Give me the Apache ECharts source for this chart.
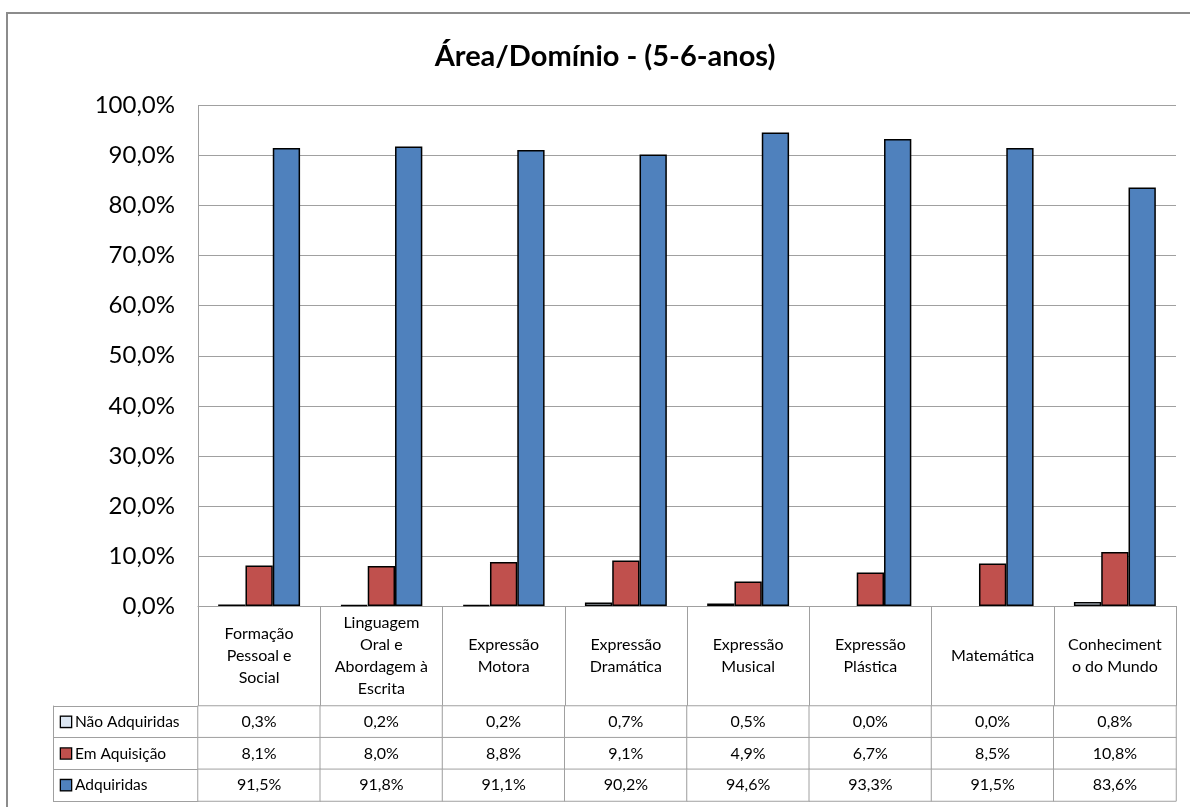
<!DOCTYPE html>
<html>
<head>
<meta charset="utf-8">
<script src="https://cdn.jsdelivr.net/npm/echarts@6/dist/echarts.min.js"></script>
<style>
  html, body { margin: 0; padding: 0; background: #ffffff; }
  #chart { width: 1190px; height: 807px; }
</style>
</head>
<body>
<div id="chart"></div>
<script>
// Chart data
const chartTitle = 'Área/Domínio - (5-6-anos)';
const categories = [
  'Formação\nPessoal e\nSocial',
  'Linguagem\nOral e\nAbordagem à\nEscrita',
  'Expressão\nMotora',
  'Expressão\nDramática',
  'Expressão\nMusical',
  'Expressão\nPlástica',
  'Matemática',
  'Conheciment\no do Mundo'
];
const seriesNames = ['Não Adquiridas', 'Em Aquisição', 'Adquiridas'];
const naoAdquiridas = [0.3, 0.2, 0.2, 0.7, 0.5, 0.0, 0.0, 0.8];
const emAquisicao   = [8.1, 8.0, 8.8, 9.1, 4.9, 6.7, 8.5, 10.8];
const adquiridas    = [91.5, 91.8, 91.1, 90.2, 94.6, 93.3, 91.5, 83.6];
const yMin = 0, yMax = 100, yStep = 10;

// Styling
const seriesColors = ['#dce6f2', '#c0504d', '#4f81bd'];
const gridColor = '#a0a0a0';
const FONT = 'Lato, "Open Sans", sans-serif';

const rows = [naoAdquiridas, emAquisicao, adquiridas];
const fmtPct = v => v.toFixed(1).replace('.', ',') + '%';

// Data-table cells: [column, row, value]
const tableCells = [];
rows.forEach((vals, r) => vals.forEach((v, c) => tableCells.push([c, r, v])));

const PLOT_LEFT = 198, PLOT_RIGHT = 14, PLOT_TOP = 105.5, PLOT_BOTTOM_Y = 606;
const TABLE_TOP = 706, TABLE_H = 95, LABEL_COL_W = 145;

const barSeries = rows.map((vals, i) => ({
  name: seriesNames[i],
  type: 'bar',
  xAxisIndex: 0,
  yAxisIndex: 0,
  barGap: '0%',
  barCategoryGap: '33%',
  data: vals.map(v => ({
    value: v,
    itemStyle: v === 0 ? { borderWidth: 0 } : undefined
  })),
  itemStyle: { color: seriesColors[i], borderColor: '#000', borderWidth: 1.5 },
  emphasis: { disabled: true },
  silent: true
}));

const keyRich = {};
seriesColors.forEach((c, i) => {
  keyRich['k' + i] = { width: 10, height: 10, backgroundColor: c, borderColor: '#000', borderWidth: 1.3 };
});
keyRich.t = { fontFamily: FONT, fontSize: 15.5, color: '#000', padding: [0, 0, 0, 4] };

const chart = echarts.init(document.getElementById('chart'), null, { renderer: 'canvas' });
chart.setOption({
  backgroundColor: '#ffffff',
  animation: false,
  title: {
    text: chartTitle,
    left: 600,
    top: 37,
    textAlign: 'center',
    padding: 5,
    textStyle: { fontFamily: FONT, fontSize: 29, fontWeight: 'bold', color: '#000' }
  },
  graphic: [{
    type: 'rect',
    z: -10,
    silent: true,
    shape: { x: 7, y: 13, width: 1200, height: 820 },
    style: { fill: 'none', stroke: '#8c8c8c', lineWidth: 2 }
  }],
  grid: [
    { left: PLOT_LEFT, right: PLOT_RIGHT, top: PLOT_TOP, bottom: 807 - PLOT_BOTTOM_Y, containLabel: false },
    { left: PLOT_LEFT, right: PLOT_RIGHT, top: TABLE_TOP, height: TABLE_H, containLabel: false }
  ],
  xAxis: [
    {
      gridIndex: 0,
      type: 'category',
      data: categories,
      axisLine: { show: true, lineStyle: { color: gridColor, width: 1 } },
      axisTick: { show: true, interval: 0, length: TABLE_TOP - PLOT_BOTTOM_Y, lineStyle: { color: gridColor, width: 1 } },
      axisLabel: {
        interval: 0,
        margin: 50,
        verticalAlign: 'middle',
        fontFamily: FONT,
        fontSize: 16,
        lineHeight: 22,
        color: '#000'
      }
    },
    { gridIndex: 1, type: 'category', data: categories, show: false }
  ],
  yAxis: [
    {
      gridIndex: 0,
      type: 'value',
      min: yMin,
      max: yMax,
      interval: yStep,
      axisLine: { show: true, lineStyle: { color: gridColor, width: 1 } },
      axisTick: { show: false },
      splitLine: { show: true, lineStyle: { color: gridColor, width: 1 } },
      axisLabel: {
        margin: 23,
        fontFamily: FONT,
        fontSize: 24,
        color: '#000',
        formatter: v => fmtPct(v)
      }
    },
    {
      gridIndex: 1,
      type: 'category',
      position: 'left',
      inverse: true,
      data: seriesNames,
      axisLine: { show: true, lineStyle: { color: gridColor, width: 1 } },
      axisTick: { show: true, interval: 0, length: LABEL_COL_W, lineStyle: { color: gridColor, width: 1 } },
      splitLine: { show: false },
      axisLabel: {
        interval: 0,
        align: 'left',
        margin: 137,
        formatter: (name, idx) => '{k' + idx + '|}{t|' + name + '}',
        rich: keyRich
      }
    },
    {
      gridIndex: 1,
      type: 'category',
      position: 'left',
      offset: LABEL_COL_W,
      inverse: true,
      data: seriesNames,
      axisLine: { show: true, lineStyle: { color: gridColor, width: 1 } },
      axisTick: { show: false },
      axisLabel: { show: false },
      splitLine: { show: false }
    }
  ],
  series: barSeries.concat([{
    name: 'Tabela',
    type: 'heatmap',
    xAxisIndex: 1,
    yAxisIndex: 1,
    data: tableCells,
    silent: true,
    itemStyle: { color: '#ffffff', borderColor: gridColor, borderWidth: 1 },
    label: {
      show: true,
      fontFamily: FONT,
      fontSize: 16,
      color: '#000',
      formatter: p => fmtPct(p.value[2])
    },
    emphasis: { disabled: true }
  }])
});
</script>
</body>
</html>
